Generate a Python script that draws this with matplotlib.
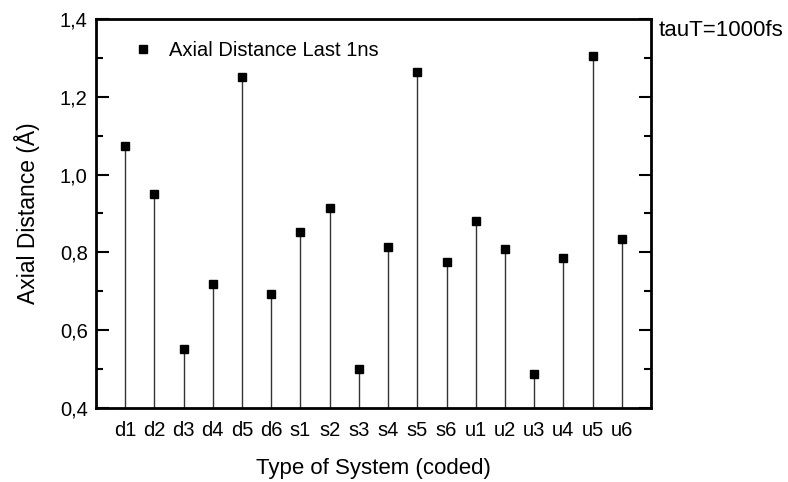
import numpy as np
import matplotlib.pyplot as plt
from matplotlib.ticker import FuncFormatter, MultipleLocator

plt.rcParams['font.family'] = ['Liberation Sans', 'DejaVu Sans']

systems = ['d1', 'd2', 'd3', 'd4', 'd5', 'd6',
           's1', 's2', 's3', 's4', 's5', 's6',
           'u1', 'u2', 'u3', 'u4', 'u5', 'u6']
axial_dist = [1.074, 0.950, 0.552, 0.718, 1.252, 0.693,
              0.852, 0.913, 0.500, 0.815, 1.264, 0.776,
              0.881, 0.809, 0.488, 0.786, 1.306, 0.834]

fig = plt.figure(figsize=(7.88, 4.82), dpi=100)
ax = fig.add_axes([96 / 788, 1 - 408 / 482, 555 / 788, 389 / 482])

x = np.arange(1, len(systems) + 1)
base = 0.4
ax.vlines(x, base, axial_dist, color='#333333', linewidth=1.0, zorder=2)
ax.plot(x, axial_dist, 's', color='black', markersize=6,
        linestyle='none', label='Axial Distance Last 1ns', zorder=3)

ax.set_xlim(0, 19)
ax.set_ylim(0.4, 1.4)
ax.set_xticks(x)
ax.set_xticklabels(systems)
ax.yaxis.set_major_locator(MultipleLocator(0.2))
ax.yaxis.set_minor_locator(MultipleLocator(0.1))
ax.yaxis.set_major_formatter(FuncFormatter(lambda v, p: '{:.1f}'.format(v).replace('.', ',')))

ax.tick_params(axis='x', length=0, labelsize=14.5, pad=9)
ax.tick_params(axis='y', which='major', direction='in', length=9, width=1.5,
               labelsize=14.5, right=True, pad=6)
ax.tick_params(axis='y', which='minor', direction='in', length=5, width=1.5, right=True)
for s in ax.spines.values():
    s.set_linewidth(2)

ax.set_xlabel('Type of System (coded)', fontsize=16, labelpad=13)
ax.set_ylabel('Axial Distance (Å)', fontsize=16.5, labelpad=14)

leg = ax.legend(loc='upper left', frameon=False, fontsize=14.5,
                bbox_to_anchor=(0.03, 0.99), handletextpad=0.7, handlelength=1.2)

fig.text(659 / 788, 1 - 30 / 482, 'tauT=1000fs', fontsize=16, va='center', ha='left')

fig.savefig('out.png', dpi=100)
